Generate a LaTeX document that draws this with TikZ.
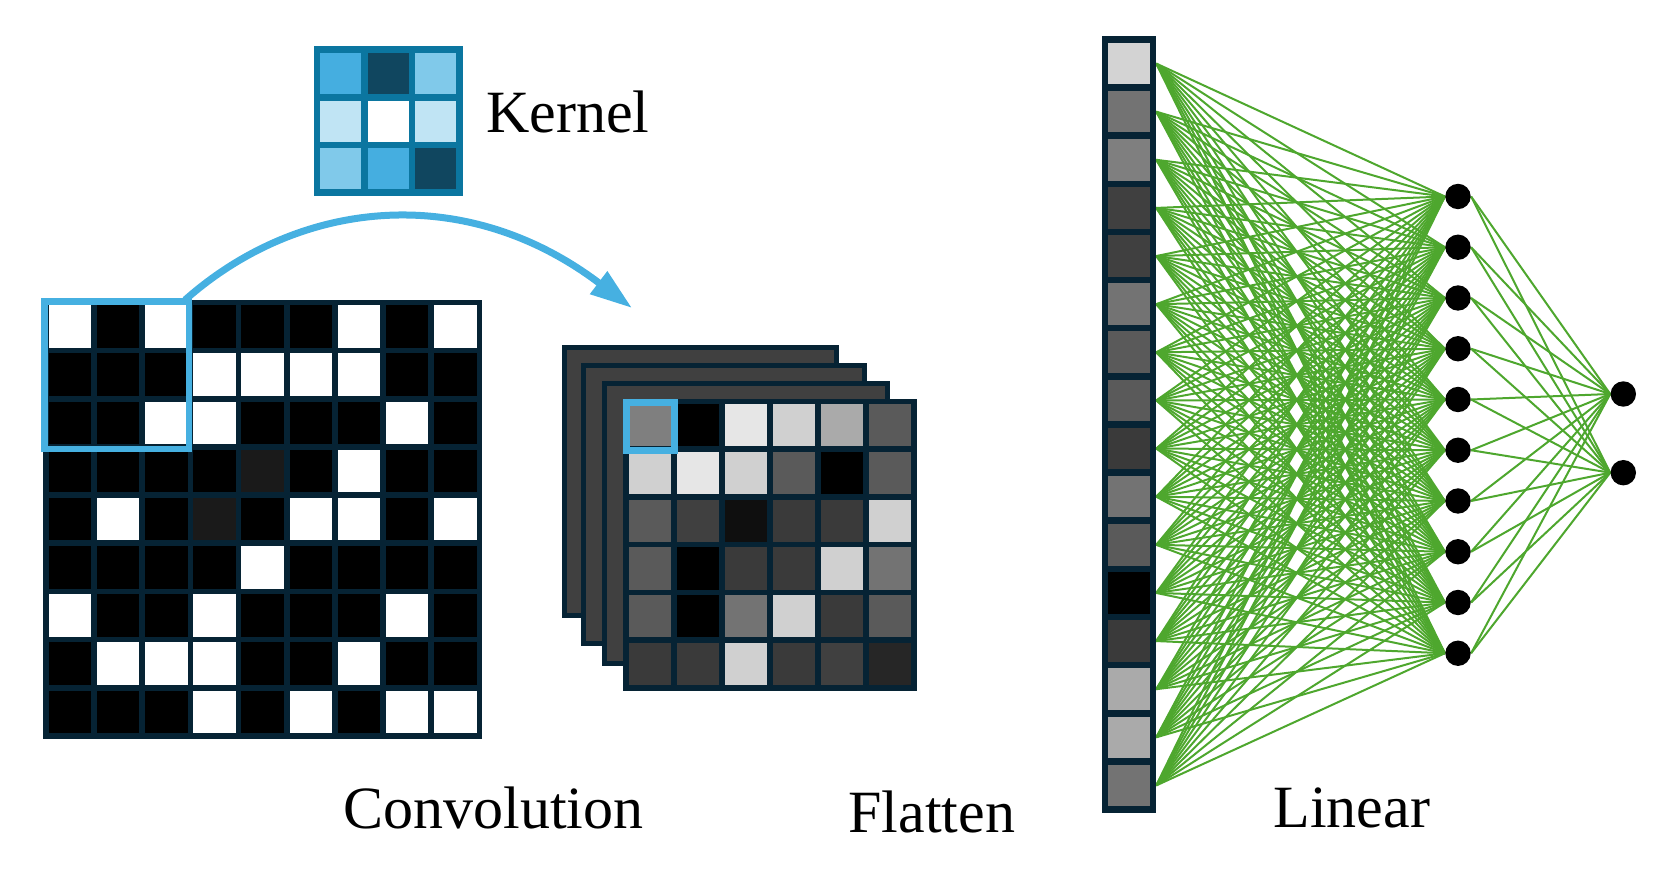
\documentclass[tikz,border=0pt]{standalone}
\usepackage{fontspec}
\setmainfont{Liberation Serif}
\usetikzlibrary{arrows.meta}
\definecolor{navy}{RGB}{6,35,52}
\definecolor{kborder}{RGB}{11,118,160}
\definecolor{kbA}{RGB}{69,174,224}
\definecolor{kbB}{RGB}{16,70,95}
\definecolor{kbC}{RGB}{128,201,234}
\definecolor{kbD}{RGB}{192,228,244}
\definecolor{kbW}{RGB}{255,255,255}
\definecolor{hl}{RGB}{70,176,225}
\definecolor{lgreen}{RGB}{78,167,46}
\definecolor{fm}{RGB}{64,64,64}
\pgfdeclarelayer{bg}
\pgfsetlayers{bg,main}
\begin{document}
\begin{tikzpicture}[x=0.5pt,y=-0.5pt,
  bigcell/.style={rectangle, draw=navy, line width=2.85pt, minimum size=24.075pt, inner sep=0pt},
  fmcell/.style={rectangle, draw=navy, line width=2.75pt, minimum width=24pt, minimum height=23.875pt, inner sep=0pt},
  kcell/.style={rectangle, draw=kborder, line width=3.3pt, minimum width=23.8pt, minimum height=23.8pt, inner sep=0pt},
  colcell/.style={rectangle, draw=navy, line width=3.25pt, minimum width=24pt, minimum height=24.06pt, inner sep=0pt},
  layer/.style={draw=navy, fill=fm, line width=2.5pt},
  hlbox/.style={draw=hl, line width=3.3pt},
  neuron/.style={circle, fill=black, minimum size=12.7pt, inner sep=0pt},
  conn/.style={draw=lgreen, line width=1pt},
  label/.style={font=\fontsize{30}{36}\selectfont, anchor=base west, inner sep=0pt}]
\path[use as bounding box] (0,0) rectangle (1656,871);

% ---------- Kernel ----------
\foreach \row [count=\r from 0] in {{kbA,kbB,kbC},{kbD,kbW,kbD},{kbC,kbA,kbB}} {
  \foreach \c [count=\k from 0] in \row {
    \node[kcell, fill=\c] (k-\r-\k) at ({317+47.57*(\k+0.5)}, {49.7+47.67*(\r+0.5)}) {};
  }
}
\node[label] (kernellabel) at (486,133) {Kernel};

% ---------- Input grid ----------
\foreach \row [count=\r from 0] in {
  {255,0,255,0,0,0,255,0,255},
  {0,0,0,255,255,255,255,0,0},
  {0,0,255,255,0,0,0,255,0},
  {0,0,0,0,26,0,255,0,0},
  {0,255,0,26,0,255,255,0,255},
  {0,0,0,0,255,0,0,0,0},
  {255,0,0,255,0,0,0,255,0},
  {0,255,255,255,0,0,255,0,0},
  {0,0,0,255,0,255,0,255,255}} {
  \foreach \v [count=\k from 0] in \row {
    \node[bigcell, fill={rgb,255:red,\v;green,\v;blue,\v}] (g-\r-\k) at ({46+48.15*(\k+0.5)}, {302.5+48.15*(\r+0.5)}) {};
  }
}
\draw[hlbox] (44.5,301.7) rectangle (189,449);
\coordinate (arcstart) at (185,300);

% ---------- Feature maps ----------
\draw[layer] (564.5,347.5) rectangle (836,616);
\draw[layer] (583.5,366) rectangle (864,644);
\draw[layer] (604.5,384) rectangle (887.5,663.5);
\foreach \row [count=\r from 0] in {
  {127,0,230,208,170,90},
  {208,230,208,90,0,90},
  {90,64,15,58,58,208},
  {90,0,58,58,208,115},
  {90,0,115,208,58,90},
  {58,58,208,58,64,38}} {
  \foreach \v [count=\k from 0] in \row {
    \node[fmcell, fill={rgb,255:red,\v;green,\v;blue,\v}] (m-\r-\k) at ({626+48*(\k+0.5)}, {401.5+47.75*(\r+0.5)}) {};
  }
}
\draw[hlbox] (626.3,402.3) rectangle (674.3,450.3);
\coordinate (arctip) at (632,308);

% ---------- Arrow ----------
\draw[hl, line width=3.5pt, -{Triangle[length=21pt,width=13.5pt]}]
  (arcstart) .. controls (300,198) and (466,182) .. (arctip);

% ---------- Flatten column ----------
\foreach \v [count=\i] in {211,115,127,64,64,115,90,90,58,115,90,0,58,170,170,115} {
  \node[colcell, fill={rgb,255:red,\v;green,\v;blue,\v}] (f\i) at (1129, {39.5+48.125*(\i-0.5)}) {};
}

% ---------- Neurons ----------
\foreach \j in {1,...,10} {
  \node[neuron] (h\j) at (1458, {196.5+50.75*(\j-1)}) {};
}
\node[neuron] (o1) at (1623.3,394) {};
\node[neuron] (o2) at (1623.3,472.7) {};

\begin{pgfonlayer}{bg}
\foreach \i in {1,...,16} {
  \foreach \j in {1,...,10} {
    \draw[conn] (f\i.east) -- (h\j.west);
  }
}
\foreach \j in {1,...,10} {
  \draw[conn] (h\j.east) -- (o1.west);
  \draw[conn] (h\j.east) -- (o2.west);
}
\end{pgfonlayer}

% ---------- Labels ----------
\node[label] (convlabel) at (343,828) {Convolution};
\node[label] (flatlabel) at (848,832) {Flatten};
\node[label] (linlabel) at (1273,827) {Linear};
\end{tikzpicture}
\end{document}
